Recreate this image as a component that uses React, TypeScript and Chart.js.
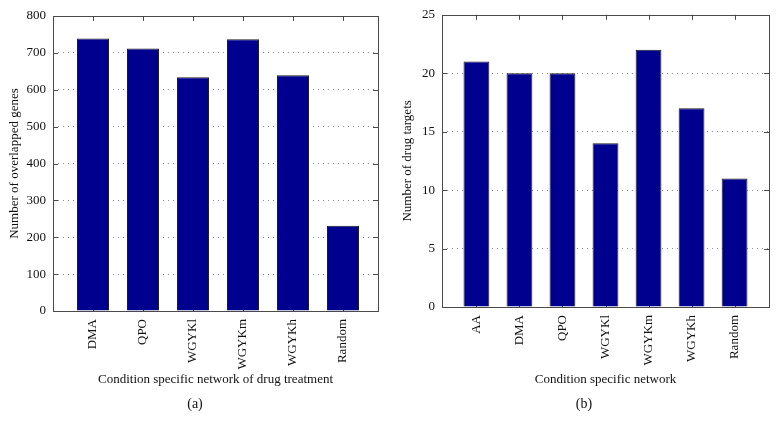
import React, { useEffect, useRef } from 'react';
import { Chart, registerables } from 'chart.js';

Chart.register(...registerables);

// ---- data ----
const categoriesA = ['DMA', 'QPO', 'WGYKl', 'WGYKm', 'WGYKh', 'Random'];
const valuesA = [739, 712, 634, 737, 639, 231];
const yMaxA = 800;
const yStepA = 100;

const categoriesB = ['AA', 'DMA', 'QPO', 'WGYKl', 'WGYKm', 'WGYKh', 'Random'];
const valuesB = [21, 20, 20, 14, 22, 17, 11];
const yMaxB = 25;
const yStepB = 5;

const xTitleA = 'Condition specific network of drug treatment';
const yTitleA = 'Number of overlapped genes';
const xTitleB = 'Condition specific network';
const yTitleB = 'Number of drug targets';

const FONT = "'Liberation Serif', 'Times New Roman', serif";
const BAR = '#00008F';
const FRAME = '#4a4a4a';

const frameTicks = {
  id: 'frameTicks',
  beforeDatasetsDraw(chart: any) {
    const { ctx, chartArea: a, scales } = chart;
    const x = scales.x;
    const y = scales.y;
    ctx.save();
    ctx.strokeStyle = FRAME;
    ctx.lineWidth = 1;
    ctx.beginPath();
    y.ticks.forEach((t: any) => {
      const py = Math.round(y.getPixelForValue(t.value)) + 0.5;
      ctx.moveTo(a.left, py);
      ctx.lineTo(a.left + 5, py);
      ctx.moveTo(a.right, py);
      ctx.lineTo(a.right - 5, py);
    });
    x.ticks.forEach((t: any) => {
      if (!Number.isInteger(t.value)) return;
      const px = Math.round(x.getPixelForValue(t.value)) + 0.5;
      ctx.moveTo(px, a.top);
      ctx.lineTo(px, a.top + 5);
      ctx.moveTo(px, a.bottom);
      ctx.lineTo(px, a.bottom - 5);
    });
    ctx.stroke();
    ctx.restore();
  },
  afterDatasetsDraw(chart: any) {
    const { ctx, chartArea: a } = chart;
    ctx.save();
    ctx.strokeStyle = FRAME;
    ctx.lineWidth = 1;
    ctx.strokeRect(Math.round(a.left) + 0.5, Math.round(a.top) + 0.5, Math.round(a.right) - Math.round(a.left), Math.round(a.bottom) - Math.round(a.top));
    ctx.restore();
  },
};

type PanelProps = {
  width: number;
  categories: string[];
  values: number[];
  yMax: number;
  yStep: number;
  xMin: number;
  xMax: number;
  xTitle: string;
  yTitle: string;
  caption: string;
  padTop: number;
  padRight: number;
  yWidth: number;
  xHeight: number;
  yTitlePad: number;
  barFrac: number;
};

function Panel(p: PanelProps) {
  const ref = useRef<HTMLCanvasElement | null>(null);
  useEffect(() => {
    if (!ref.current) return;
    const chart = new Chart(ref.current, {
      type: 'bar',
      data: {
        datasets: [
          {
            data: p.values.map((v, i) => ({ x: i + 1, y: v })),
            backgroundColor: BAR,
            borderColor: '#1e1e1e',
            borderWidth: 1,
            barPercentage: p.barFrac,
            categoryPercentage: 1,
          },
        ],
      },
      options: {
        responsive: false,
        animation: false,
        layout: { padding: { top: p.padTop, right: p.padRight, bottom: 40, left: 0 } },
        plugins: { legend: { display: false }, tooltip: { enabled: false } },
        scales: {
          x: {
            type: 'linear',
            offset: false,
            min: p.xMin,
            max: p.xMax,
            grid: { display: false, offset: false },
            border: { display: false },
            ticks: {
              stepSize: 1,
              includeBounds: false,
              autoSkip: false,
              minRotation: 90,
              maxRotation: 90,
              padding: 0,
              color: '#111',
              font: { family: FONT, size: 13 },
              callback: (v: any) => (Number.isInteger(v) ? p.categories[v - 1] ?? '' : ''),
            },
            title: {
              display: true,
              text: p.xTitle,
              color: '#111',
              font: { family: FONT, size: 13 },
              padding: { top: 4, bottom: 3 },
            },
            afterFit: (s: any) => {
              s.height = p.xHeight;
            },
          },
          y: {
            min: 0,
            max: p.yMax,
            grid: {
              color: (c: any) => (c.tick && (c.tick.value === 0 || c.tick.value === p.yMax) ? 'rgba(0,0,0,0)' : '#8c8c8c'),
              drawTicks: false,
              lineWidth: 1,
            },
            border: { display: false, dash: [1, 4] },
            ticks: {
              stepSize: p.yStep,
              padding: 7,
              color: '#111',
              font: { family: FONT, size: 13 },
            },
            title: {
              display: true,
              text: p.yTitle,
              color: '#111',
              font: { family: FONT, size: 13 },
              padding: { top: p.yTitlePad, bottom: 4 },
            },
            afterFit: (s: any) => {
              s.width = p.yWidth;
            },
          },
        },
      } as any,
      plugins: [frameTicks],
    });
    return () => chart.destroy();
  }, []);
  return (
    <div style={{ position: 'relative', width: p.width, height: 430 }}>
      <canvas ref={ref} width={p.width} height={430} style={{ display: 'block' }} />
      <div
        style={{
          position: 'absolute',
          left: 0,
          top: 396,
          width: p.width,
          textAlign: 'center',
          fontFamily: FONT,
          fontSize: 14,
          lineHeight: '16px',
          color: '#111',
        }}
      >
        {p.caption}
      </div>
    </div>
  );
}

export default function App() {
  return (
    <div style={{ position: 'absolute', left: 0, top: 0, width: 778, height: 430, background: '#fff', display: 'flex' }}>
      <Panel
        width={390}
        categories={categoriesA}
        values={valuesA}
        yMax={yMaxA}
        yStep={yStepA}
        xMin={0.2}
        xMax={6.7}
        xTitle={xTitleA}
        yTitle={yTitleA}
        caption="(a)"
        padTop={16}
        padRight={12}
        yWidth={53}
        xHeight={79}
        yTitlePad={7}
        barFrac={0.64}
      />
      <Panel
        width={388}
        categories={categoriesB}
        values={valuesB}
        yMax={yMaxB}
        yStep={yStepB}
        xMin={0.2}
        xMax={7.8}
        xTitle={xTitleB}
        yTitle={yTitleB}
        caption="(b)"
        padTop={14}
        padRight={9}
        yWidth={52}
        xHeight={83}
        yTitlePad={10}
        barFrac={0.6}
      />
    </div>
  );
}
